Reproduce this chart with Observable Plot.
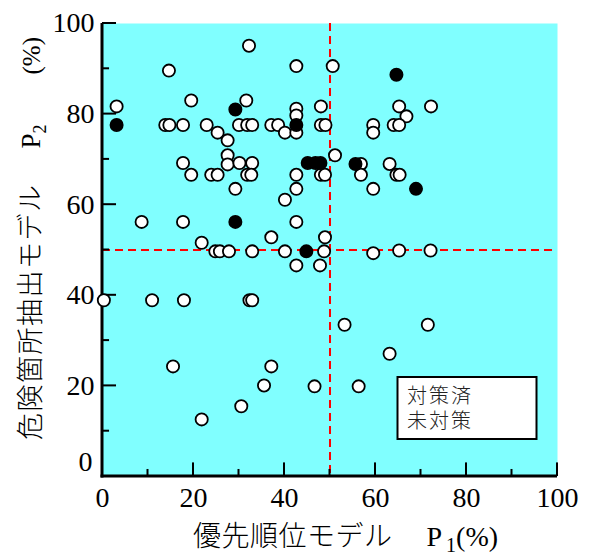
<!DOCTYPE html>
<html><head><meta charset="utf-8">
<script src="https://cdn.jsdelivr.net/npm/d3@7"></script>
<script src="https://cdn.jsdelivr.net/npm/@observablehq/plot@0.6"></script>
<style>body{margin:0;background:#fff}</style>
</head><body><div id="chart"></div>
<script>
// P1 = 優先順位モデル (%), P2 = 危険箇所抽出モデル (%)
const openP1 = [32.2,42.6,14.6,3.1,19.5,31.6,42.6,42.6,48.0,13.8,14.7,17.7,22.9,30.0,31.8,32.9,37.1,38.6,40.1,42.6,48.0,49.0,25.3,27.5,27.5,27.5,30.1,32.9,17.7,19.5,23.9,25.3,31.8,32.7,29.2,42.6,42.6,40.1,48.0,48.9,50.6,51.1,8.6,17.7,42.6,21.8,37.1,48.9,24.8,25.8,27.8,32.9,40.1,48.7,42.6,47.8,0.3,10.9,17.9,32.3,32.9,15.5,37.1,35.5,46.6,30.5,21.8,65.2,72.2,66.8,59.5,59.5,64.0,65.2,56.8,56.8,59.5,63.1,64.6,65.3,59.5,65.2,72.1,53.2,71.5,63.1,56.3];
const openP2 = [95.1,90.6,89.6,81.7,83.0,83.0,81.2,79.7,81.7,77.6,77.6,77.6,77.6,77.6,77.6,77.6,77.6,77.6,75.9,75.9,77.6,77.6,75.9,74.2,70.9,68.9,69.2,69.2,69.2,66.6,66.6,66.6,66.6,66.6,63.5,66.6,63.5,61.1,66.6,66.6,90.6,70.9,56.2,56.2,56.2,51.6,52.8,52.8,49.7,49.7,49.7,49.7,49.7,49.7,46.6,46.6,38.9,38.9,38.9,38.9,38.9,24.3,24.3,20.1,19.9,15.5,12.6,81.7,81.7,79.5,77.6,75.9,77.6,77.6,69.0,66.6,63.5,69.0,66.6,66.6,49.3,49.9,49.9,33.5,33.5,27.1,19.9];
const doneP1 = [3.1,29.2,42.6,45.1,46.8,47.9,29.2,44.8,64.6,55.6,68.9];
const doneP2 = [77.6,81.0,77.6,69.2,69.2,69.2,56.2,49.7,88.7,69.0,63.5];
const tickValues = [0,10,20,30,40,50,60,70,80,90,100];
const xLabelValues = [0,20,40,60,80,100];
const yLabelValues = [20,40,60,80,100];
const yZeroLabel = [0];
const threshold = [50];
const axisSpan = [{lo: 0, hi: 100}];
const legendLabels = ["対策済","未対策"];
const xTitle = "優先順位モデル";
const yTitle = "危険箇所抽出モデル";

const openPts = openP1.map((p, i) => ({p1: p, p2: openP2[i]}));
const donePts = doneP1.map((p, i) => ({p1: p, p2: doneP2[i]}));
const isMajor = d => d % 20 === 0;

const plot = Plot.plot({
  width: 589, height: 556,
  marginLeft: 102, marginRight: 32, marginTop: 23, marginBottom: 80,
  x: {domain: [0, 100]},
  y: {domain: [0, 100]},
  style: {fontFamily: "'Liberation Serif', serif", fontSize: "28px", color: "#000", background: "white"},
  marks: [
    Plot.frame({fill: "#80ffff", stroke: "none"}),
    Plot.ruleX(threshold, {stroke: "#ff0000", strokeWidth: 2, strokeDasharray: "8,5"}),
    Plot.ruleY(threshold, {stroke: "#ff0000", strokeWidth: 2, strokeDasharray: "8,5"}),
    // inward ticks (filled thin rects)
    Plot.rect(tickValues, {x1: d => d, x2: d => d, y1: d => 0, y2: d => isMajor(d) ? 3.0 : 1.55,
      fill: "#000", insetLeft: -1, insetRight: -1}),
    Plot.rect(tickValues, {y1: d => d, y2: d => d, x1: d => 0, x2: d => isMajor(d) ? 3.08 : 1.55,
      fill: "#000", insetTop: -1, insetBottom: -1}),
    // axis lines
    Plot.rect(axisSpan, {x1: d => d.lo, x2: d => d.lo, y1: d => d.lo, y2: d => d.hi,
      fill: "#000", insetLeft: -1.5, insetRight: -1.5, insetBottom: -1.5}),
    Plot.rect(axisSpan, {y1: d => d.lo, y2: d => d.lo, x1: d => d.lo, x2: d => d.hi,
      fill: "#000", insetTop: -1.5, insetBottom: -1.5, insetLeft: -1.5}),
    Plot.dot(openPts, {x: "p1", y: "p2", r: 6.1, fill: "white", stroke: "black", strokeWidth: 1.8}),
    Plot.dot(donePts, {x: "p1", y: "p2", r: 6.1, fill: "black", stroke: "black", strokeWidth: 1.8}),
    Plot.axisX(xLabelValues, {tickSize: 0, tickPadding: 11, fontSize: 28, label: null}),
    Plot.axisY(yLabelValues, {tickSize: 0, tickPadding: 8, fontSize: 28, label: null}),
    Plot.axisY(yZeroLabel, {tickSize: 0, tickPadding: 10, dy: -14, fontSize: 28, label: null})
  ]
});
document.getElementById("chart").appendChild(plot);

const svg = d3.select(plot);
const cjk = "'Noto Sans CJK JP', sans-serif";
const serif = "'Liberation Serif', serif";

// x title
const xt = svg.append("text").attr("x", 193).attr("y", 546).attr("font-size", 28)
  .attr("fill", "#000").attr("text-anchor", "start");
xt.append("tspan").attr("font-family", cjk).attr("font-weight", 300).attr("letter-spacing", 0.5).text(xTitle);
xt.append("tspan").attr("font-family", serif).attr("dx", 34).text("P");
xt.append("tspan").attr("font-family", serif).attr("font-size", 20).attr("dx", 4).attr("dy", 6).text("1");
xt.append("tspan").attr("font-family", serif).attr("dy", -6).text("(%)");

// y title
const yt = svg.append("text").attr("transform", "translate(40,440) rotate(-90)")
  .attr("font-size", 27).attr("fill", "#000").attr("text-anchor", "start");
yt.append("tspan").attr("font-family", cjk).attr("font-weight", 300).attr("letter-spacing", 1.5).text(yTitle);
yt.append("tspan").attr("font-family", serif).attr("dx", 35).text("P");
yt.append("tspan").attr("font-family", serif).attr("font-size", 18).attr("dy", 6).text("2");
yt.append("tspan").attr("font-family", serif).attr("font-size", 25).attr("dx", 50).attr("dy", -6).text("(%)");

// legend box
const lg = svg.append("g");
lg.append("rect").attr("x", 397.5).attr("y", 377).attr("width", 139).attr("height", 62)
  .attr("fill", "white").attr("stroke", "black").attr("stroke-width", 2);
legendLabels.forEach((t, i) => {
  lg.append("text").attr("x", 407).attr("y", 403 + i * 25).attr("font-size", 20)
    .attr("font-family", cjk).attr("font-weight", 300).attr("letter-spacing", 2)
    .attr("text-anchor", "start").attr("fill", "#222").text(t);
});
</script>
</body></html>
